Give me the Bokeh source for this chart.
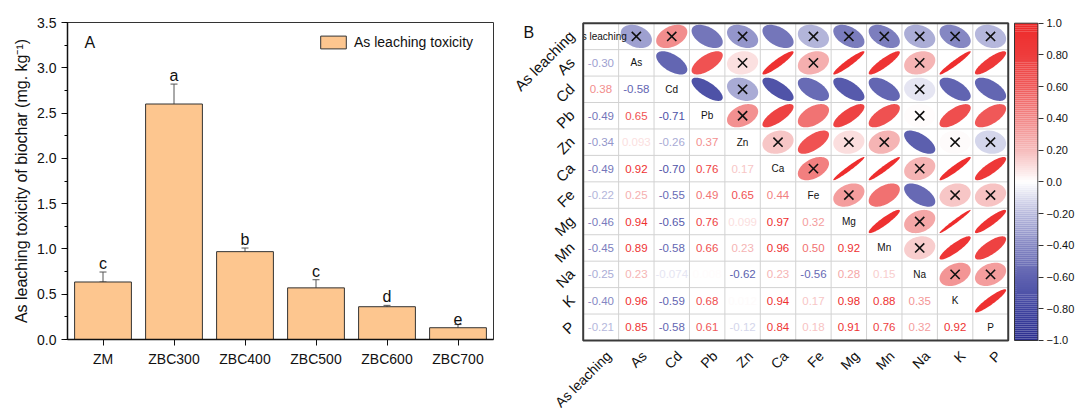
import numpy as np
from bokeh.plotting import figure
from bokeh.models import (ColumnDataSource, FactorRange, Range1d, Legend, LegendItem,
                          SingleIntervalTicker, FixedTicker, Whisker, TeeHead, Label,
                          PrintfTickFormatter)
from bokeh.layouts import row
from bokeh.embed import file_html
from bokeh.resources import INLINE
from bokeh.core.properties import value

FONT = "Liberation Sans"

# ---------------- Panel A data ----------------
samples = ["ZM", "ZBC300", "ZBC400", "ZBC500", "ZBC600", "ZBC700"]
toxicity = [0.635, 2.60, 0.970, 0.570, 0.362, 0.130]
err_up = [0.11, 0.22, 0.04, 0.09, 0.015, 0.035]
err_low = [0.0, 0.22, 0.025, 0.09, 0.01, 0.025]
letters = ["c", "a", "b", "c", "d", "e"]

# ---------------- Panel B data (lower triangle of correlation matrix) ----------------
variables = ["As leaching", "As", "Cd", "Pb", "Zn", "Ca", "Fe", "Mg", "Mn", "Na", "K", "P"]
r_As = [-0.30]
r_Cd = [0.38, -0.58]
r_Pb = [-0.49, 0.65, -0.71]
r_Zn = [-0.34, 0.093, -0.26, 0.37]
r_Ca = [-0.49, 0.92, -0.70, 0.76, 0.17]
r_Fe = [-0.22, 0.25, -0.55, 0.49, 0.65, 0.44]
r_Mg = [-0.46, 0.94, -0.65, 0.76, 0.099, 0.97, 0.32]
r_Mn = [-0.45, 0.89, -0.58, 0.66, 0.23, 0.96, 0.50, 0.92]
r_Na = [-0.25, 0.23, -0.074, 0.008, -0.62, 0.23, -0.56, 0.28, 0.15]
r_K = [-0.40, 0.96, -0.59, 0.68, 0.012, 0.94, 0.17, 0.98, 0.88, 0.35]
r_P = [-0.21, 0.85, -0.58, 0.61, -0.12, 0.84, 0.18, 0.91, 0.76, 0.32, 0.92]
lower_rows = [r_As, r_Cd, r_Pb, r_Zn, r_Ca, r_Fe, r_Mg, r_Mn, r_Na, r_K, r_P]
sig_threshold = 0.47
cbar_ticks = [1.0, 0.8, 0.6, 0.4, 0.2, 0.0, -0.2, -0.4, -0.6, -0.8, -1.0]
cbar_labels = ["1.0", "0.80", "0.60", "0.40", "0.20", "0.0", "\u22120.20", "\u22120.40",
               "\u22120.60", "\u22120.80", "\u22121.0"]

n = len(variables)
R = np.eye(n)
for i, vals in enumerate(lower_rows, start=1):
    for j, v in enumerate(vals):
        R[i, j] = v
        R[j, i] = v

STOPS = [(-1.0, "#2B2E8E"), (-0.8, "#4044A0"), (-0.6, "#5F62B0"), (-0.4, "#8587C3"),
         (-0.2, "#B8BADD"), (0.0, "#FFFFFF"), (0.2, "#F6BCBC"), (0.4, "#F28888"),
         (0.6, "#F05A5A"), (0.8, "#EE3C3C"), (1.0, "#EE2A2A")]


def hex2rgb(h):
    return tuple(int(h[k:k + 2], 16) for k in (1, 3, 5))


def cmap(v):
    v = max(-1.0, min(1.0, v))
    for (a, ca), (b, cb) in zip(STOPS[:-1], STOPS[1:]):
        if a <= v <= b:
            t = (v - a) / (b - a)
            c1, c2 = hex2rgb(ca), hex2rgb(cb)
            c = [round(c1[k] + (c2[k] - c1[k]) * t) for k in range(3)]
            return "#%02X%02X%02X" % tuple(c)
    return "#FFFFFF"


def fmt(v):
    if abs(v) < 0.1:
        return f"{v:.2g}"
    return f"{v:.2f}"


H = 412
TOP = 22
FRAME_H = 317

# ---------------- Panel A figure ----------------
p1 = figure(x_range=FactorRange(*samples), y_range=Range1d(0, 3.5),
            width=500, height=H, min_border_left=67, min_border_right=7,
            min_border_top=TOP, min_border_bottom=H - TOP - FRAME_H,
            output_backend="svg", toolbar_location=None)
p1.frame_align = False
p1.background_fill_color = "white"
p1.border_fill_color = "white"
p1.xgrid.grid_line_color = None
p1.ygrid.grid_line_color = None
p1.outline_line_color = "#333333"
p1.outline_line_width = 1

src = ColumnDataSource(dict(
    sample=samples, tox=toxicity,
    upper=[t + e for t, e in zip(toxicity, err_up)],
    lower=[t - e for t, e in zip(toxicity, err_low)],
    letter=letters))

bars = p1.vbar(x="sample", top="tox", width=0.8, source=src,
               fill_color="#FDC68F", line_color="#333333", line_width=1)
wh = Whisker(base="sample", upper="upper", lower="lower", source=src,
             line_color="#555555", line_width=1,
             upper_head=TeeHead(size=7, line_color="#555555", line_width=1),
             lower_head=TeeHead(size=7, line_color="#555555", line_width=1))
p1.add_layout(wh)
p1.text(x="sample", y="upper", text="letter", source=src, text_align="center",
        text_baseline="bottom", text_font_size="16px", text_font=value(FONT),
        text_color="#111111")

p1.yaxis.ticker = SingleIntervalTicker(interval=0.5, num_minor_ticks=2)
p1.yaxis.formatter = PrintfTickFormatter(format="%.1f")
p1.yaxis.axis_label = "As leaching toxicity of biochar (mg. kg\u207b\u00b9)"
for ax in (p1.xaxis[0], p1.yaxis[0]):
    ax.axis_line_color = "#111111"
    ax.axis_line_width = 1.5
    ax.major_tick_line_color = "#111111"
    ax.major_tick_line_width = 1
    ax.major_tick_out = 6
    ax.major_tick_in = 0
    ax.minor_tick_out = 3
    ax.minor_tick_in = 0
    ax.major_label_text_font = FONT
    ax.major_label_text_font_size = "14px"
    ax.major_label_text_color = "#111111"
    ax.major_label_standoff = 5
    ax.axis_label_text_font = FONT
    ax.axis_label_text_font_size = "16px"
    ax.axis_label_text_font_style = "normal"
    ax.axis_label_text_color = "#111111"
p1.yaxis.axis_label_standoff = 4
p1.xaxis.minor_tick_line_color = None

legend = Legend(items=[LegendItem(label="As leaching toxicity", renderers=[bars])],
                location=(250, 289), border_line_color=None, background_fill_alpha=0,
                glyph_width=32, glyph_height=16, label_height=16, padding=0, margin=0,
                spacing=0, label_standoff=5, label_text_font=FONT,
                label_text_font_size="14px", label_text_color="#111111")
p1.add_layout(legend)
p1.add_layout(Label(x=17, y=297, x_units="screen", y_units="screen", text="A",
                    text_font=FONT, text_font_size="16px", text_baseline="middle",
                    text_color="#111111"))

# ---------------- Panel B figure ----------------
CW, CH = 35.42, 26.44  # cell size in px (layout)
W2 = 578
RB = 40                # right border for the colour-bar labels
GRID_LEFT = 82.7       # px from figure left to grid left
GRID_TOP = 22.7        # px from figure top to grid top
x_end = (W2 - RB - GRID_LEFT) / CW
y_end = n + GRID_TOP / CH
y_start = -(H - GRID_TOP - n * CH) / CH
p2 = figure(width=W2, height=H, x_range=Range1d(-GRID_LEFT / CW, x_end),
            y_range=Range1d(y_start, y_end),
            x_axis_location=None, y_axis_location="right",
            min_border_left=0, min_border_right=RB, min_border_top=0,
            min_border_bottom=0, output_backend="svg", toolbar_location=None)
p2.frame_align = False
p2.extra_y_ranges = {"cb": Range1d(-1 + y_start * 2 / n, 1 + (y_end - n) * 2 / n)}
p2.background_fill_color = "white"
p2.border_fill_color = "white"
p2.outline_line_color = None
p2.xgrid.grid_line_color = None
p2.ygrid.grid_line_color = None

# grid lines
gx0, gy0, gx1, gy1 = [], [], [], []
for k in range(1, n):
    gx0 += [k, 0]; gy0 += [0, k]; gx1 += [k, n]; gy1 += [n, k]
p2.segment(x0=gx0, y0=gy0, x1=gx1, y1=gy1, line_color="#D2D2D2", line_width=1)

# ellipses (upper triangle)
t = np.linspace(0, 2 * np.pi, 80)
exs, eys, ecol, xx, xy = [], [], [], [], []
for i in range(n):
    for j in range(i + 1, n):
        r = R[i, j]
        cx, cy = j + 0.5, n - i - 0.5
        a = np.arccos(r)
        exs.append(list(cx + 0.88 * np.cos(t + a / 2) / 2))
        eys.append(list(cy + 0.88 * np.cos(t - a / 2) / 2))
        ecol.append(cmap(r))
        if abs(r) < sig_threshold:
            xx.append(cx); xy.append(cy)
p2.patches(xs=exs, ys=eys, fill_color=ecol, line_color=None)
p2.scatter(x=xx, y=xy, marker="x", size=13, line_color="#111111", line_width=1.6)

# numbers (lower triangle)
tx, ty, tt, tc = [], [], [], []
for i in range(1, n):
    for j in range(i):
        tx.append(j + 0.5); ty.append(n - i - 0.5)
        tt.append(fmt(R[i, j])); tc.append(cmap(R[i, j]))
p2.text(x=tx, y=ty, text=tt, text_color=tc, text_align="center", text_baseline="middle",
        text_font=value(FONT), text_font_size="11.5px")

# diagonal labels
p2.text(x=[k + 0.5 for k in range(n)], y=[n - k - 0.5 for k in range(n)], text=variables,
        text_align="center", text_baseline="middle", text_font=value(FONT),
        text_font_size="10px", text_color="#111111")
# mask spill of the first diagonal label outside the grid
p2.quad(left=[-0.6], right=[0], bottom=[n - 1 + 0.05], top=[n - 0.05],
        fill_color="white", line_color=None)

# row labels (left) and column labels (bottom)
p2.text(x=[-0.32] * n, y=[n - k - 0.5 + 0.12 for k in range(n)], text=variables,
        angle=np.pi / 4, text_align="right", text_baseline="middle",
        text_font=value(FONT), text_font_size="15px", text_color="#111111")
p2.text(x=[k + 0.5 + 0.22 for k in range(n)], y=[-13 / CH] * n, text=variables,
        angle=np.pi / 4, text_align="right", text_baseline="middle",
        text_font=value(FONT), text_font_size="14px", text_color="#111111")

# border
p2.quad(left=[0], right=[n], bottom=[0], top=[n], fill_color=None,
        line_color="#3A3A3A", line_width=2)

# colour bar
cb_l = (1014 - 500 - GRID_LEFT) / CW
steps = np.linspace(-1, 1, 161)
p2.quad(left=cb_l, right=x_end, bottom=list(steps[:-1]), top=list(steps[1:]),
        fill_color=[cmap((a + b) / 2) for a, b in zip(steps[:-1], steps[1:])],
        line_color=None, y_range_name="cb")
p2.quad(left=[cb_l], right=[x_end - 0.6 / CW], bottom=[-1], top=[1], fill_color=None,
        line_color="#333333", line_width=1, y_range_name="cb")
ya = p2.yaxis[0]
ya.y_range_name = "cb"
ya.ticker = FixedTicker(ticks=cbar_ticks)
ya.major_label_overrides = {tk: lab for tk, lab in zip(cbar_ticks, cbar_labels)}
ya.axis_line_color = None
ya.major_tick_line_color = "#333333"
ya.major_tick_line_width = 1
ya.major_tick_out = 5
ya.major_tick_in = 0
ya.minor_tick_line_color = None
ya.major_label_standoff = 3
ya.major_label_text_font = FONT
ya.major_label_text_font_size = "11px"
ya.major_label_text_color = "#111111"

p2.text(x=[(523 - 500 - GRID_LEFT) / CW], y=[n - (32 - GRID_TOP) / CH], text=["B"],
        text_align="left", text_baseline="middle", text_font=value(FONT),
        text_font_size="16px", text_color="#111111")

layout = row(p1, p2)
open("out.html", "w").write(file_html(layout, INLINE))
